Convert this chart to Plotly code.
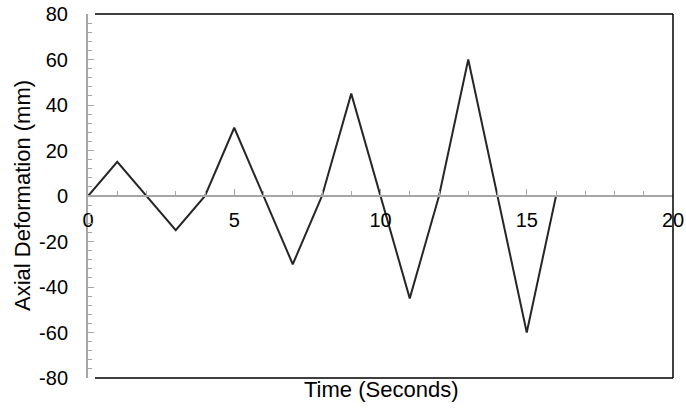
import plotly.graph_objects as go

time_s = [0, 1, 3, 4, 5, 7, 8, 9, 11, 12, 13, 15, 16]
deformation_mm = [0, 15, -15, 0, 30, -30, 0, 45, -45, 0, 60, -60, 0]

x_ticks = [0, 5, 10, 15, 20]
y_ticks = [-80, -60, -40, -20, 0, 20, 40, 60, 80]

tick_font = dict(family="Liberation Sans, Arial, sans-serif", size=20, color="black")
title_font = dict(family="Liberation Sans, Arial, sans-serif", size=22, color="black")

fig = go.Figure()
fig.add_trace(go.Scatter(x=time_s, y=deformation_mm, mode="lines",
                         line=dict(color="#262626", width=2), showlegend=False))

fig.update_layout(
    width=686, height=408,
    margin=dict(l=88, r=13, t=14, b=30),
    paper_bgcolor="white", plot_bgcolor="white",
    font=tick_font,
    xaxis=dict(range=[0, 20], tickvals=x_ticks, ticktext=[str(v) for v in x_ticks],
               showgrid=False, zeroline=False, showline=True, linecolor="#a6a6a6", linewidth=2,
               ticks="inside", ticklen=6, tickcolor="#a6a6a6", tickwidth=1,
               minor=dict(dtick=1, tick0=0, ticks="inside", ticklen=4, tickcolor="#a6a6a6", showgrid=False),
               anchor="free", position=0.5, tickfont=tick_font, automargin=False,
               ticklabelstandoff=6),
    yaxis=dict(range=[-80, 80], tickvals=y_ticks, ticktext=[str(v) for v in y_ticks],
               showgrid=False, zeroline=False, showline=True, linecolor="#a6a6a6", linewidth=2,
               ticks="inside", ticklen=6, tickcolor="#a6a6a6", tickwidth=1,
               minor=dict(dtick=4, tick0=0, ticks="inside", ticklen=4, tickcolor="#a6a6a6", showgrid=False),
               tickfont=tick_font, automargin=False, ticklabelstandoff=14),
    shapes=[
        dict(type="line", xref="paper", yref="paper", x0=0.012, x1=1, y0=1, y1=1,
             line=dict(color="black", width=1.5)),
        dict(type="line", xref="paper", yref="paper", x0=1, x1=1, y0=0, y1=1,
             line=dict(color="black", width=1.5)),
        dict(type="line", xref="paper", yref="paper", x0=0.012, x1=1, y0=0, y1=0,
             line=dict(color="black", width=1.5)),
    ],
    annotations=[
        dict(text="Time (Seconds)", xref="paper", yref="paper", x=0.5, y=0,
             yshift=-11, yanchor="middle", showarrow=False, font=title_font),
        dict(text="Axial Deformation (mm)", xref="paper", yref="paper", x=0, y=0.5,
             xshift=-66, xanchor="center", yanchor="middle", textangle=-90,
             showarrow=False, font=title_font),
    ],
)

fig.write_html("out.html", config={"displayModeBar": False},
               post_script="document.body.style.margin='0';document.body.style.overflow='hidden';")
